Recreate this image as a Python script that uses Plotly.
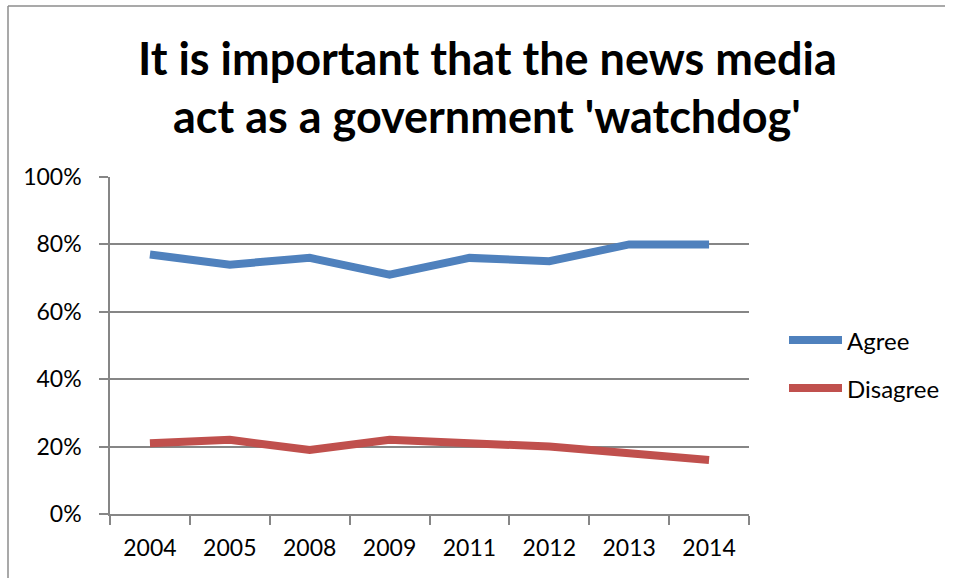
import plotly.graph_objects as go

# Survey years and share of respondents (fraction of 1)
years = ["2004", "2005", "2008", "2009", "2011", "2012", "2013", "2014"]
agree = [0.77, 0.74, 0.76, 0.71, 0.76, 0.75, 0.80, 0.80]
disagree = [0.21, 0.22, 0.19, 0.22, 0.21, 0.20, 0.18, 0.16]
series_names = ["Agree", "Disagree"]
colors = ["#4F81BD", "#C0504D"]

W, H = 955, 578
L, R, T, B = 110, 206, 177, 64
pw, ph = W - L - R, H - T - B

def px_x(x):
    return (x - L) / pw

def px_y(y):
    return (H - B - y) / ph

FONT = "Lato, 'Open Sans', sans-serif"
GRAY = "#868686"
LINE_W = 8

fig = go.Figure()
for name, vals, col in zip(series_names, [agree, disagree], colors):
    fig.add_trace(go.Scatter(
        x=years, y=vals, name=name, mode="lines",
        line=dict(color=col, width=LINE_W),
        showlegend=False,
    ))

fig.update_layout(
    width=W, height=H,
    margin=dict(l=L, r=R, t=T, b=B),
    paper_bgcolor="white", plot_bgcolor="white",
    font=dict(family=FONT, size=23, color="#000000"),
)
fig.update_xaxes(
    type="category", range=[-0.5, len(years) - 0.5],
    showgrid=False, showline=True, linecolor=GRAY, linewidth=1.5,
    ticks="outside", tickson="boundaries", ticklen=9, tickcolor=GRAY, tickwidth=1.5,
    tickfont=dict(size=23), ticklabelstandoff=13,
)
fig.update_yaxes(
    range=[0, 1], dtick=0.2, tickformat=".0%", showgrid=True, gridcolor=GRAY, gridwidth=1.5,
    showline=True, linecolor=GRAY, linewidth=1.5, zeroline=False,
    ticks="outside", ticklen=9, tickcolor=GRAY, tickwidth=1.5,
    tickfont=dict(size=23), ticklabelstandoff=13,
)

# Chart title (two lines)
title_lines = ["It is important that the news media", "act as a government 'watchdog'"]
for line, yc in zip(title_lines, [58, 116]):
    fig.add_annotation(
        x=px_x(487), y=px_y(yc), xref="paper", yref="paper",
        text=line, showarrow=False,
        font=dict(family=FONT, size=45, color="#000000", weight="bold"),
        xanchor="center", yanchor="middle",
    )

# Legend entries
for i, (name, col) in enumerate(zip(series_names, colors)):
    yc = 340 + 48 * i
    fig.add_shape(
        type="line", xref="paper", yref="paper",
        x0=px_x(789), x1=px_x(842), y0=px_y(yc), y1=px_y(yc),
        line=dict(color=col, width=LINE_W),
    )
    fig.add_annotation(
        x=px_x(845), y=px_y(yc), xref="paper", yref="paper",
        text=name, showarrow=False, xanchor="left", yanchor="middle",
        font=dict(family=FONT, size=24, color="#000000"),
    )

# Chart frame (left and top edges)
fig.add_shape(type="line", xref="paper", yref="paper",
              x0=px_x(8), x1=px_x(8), y0=px_y(6), y1=px_y(H + 5),
              line=dict(color="#8C8C8C", width=1.5))
fig.add_shape(type="line", xref="paper", yref="paper",
              x0=px_x(8), x1=px_x(945), y0=px_y(6), y1=px_y(6),
              line=dict(color="#8C8C8C", width=1.5))

fig.write_html("out.html")
